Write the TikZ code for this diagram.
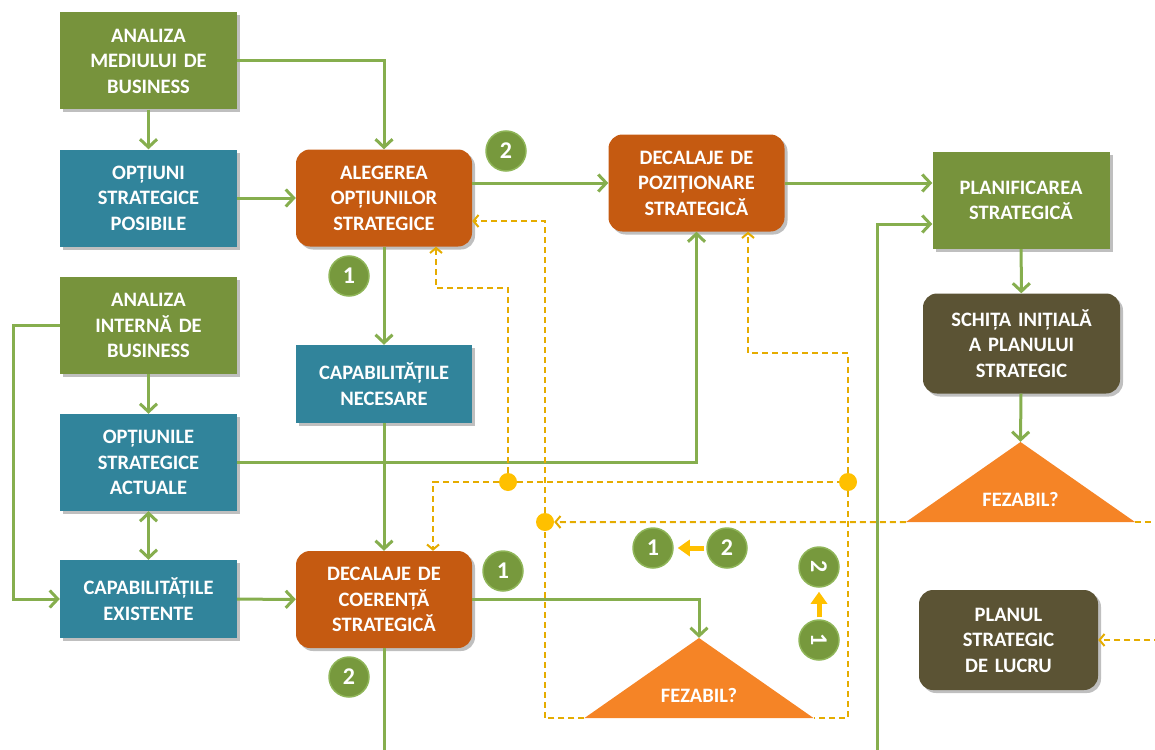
\documentclass[tikz,border=0pt]{standalone}
\usepackage{fontspec}
\setmainfont{Carlito}
\usepackage{tikz}
\usetikzlibrary{positioning}
\usetikzlibrary{arrows.meta, shadows}
\usepackage{xcolor}

\definecolor{boxgreen}{HTML}{77933C}
\definecolor{boxteal}{HTML}{31849B}
\definecolor{boxorange}{HTML}{C55A11}
\definecolor{boxolive}{HTML}{5B5334}
\definecolor{triorange}{HTML}{F58426}
\definecolor{linegreen}{HTML}{86AE4E}
\definecolor{numgreen}{HTML}{77993D}
\definecolor{numedge}{HTML}{8FB558}
\definecolor{dashyellow}{HTML}{E5AC00}
\definecolor{dotyellow}{HTML}{FFC000}

\begin{document}
\begin{tikzpicture}[x=1pt, y=-1pt,
  box/.style = {rectangle, minimum width=177pt, minimum height=97pt, text width=172pt, inner sep=2pt, align=center, text=white, font=\fontsize{20.5}{25.5}\selectfont\bfseries, drop shadow={shadow xshift=3pt, shadow yshift=-3pt, opacity=0.25, fill=black}},
  grn/.style = {box, fill=boxgreen},
  blu/.style = {box, fill=boxteal},
  org/.style = {box, fill=boxorange, rounded corners=14pt, minimum width=175pt},
  olv/.style = {box, fill=boxolive, rounded corners=14pt, minimum height=100pt},
  tri/.style = {minimum width=229pt, minimum height=80pt, inner sep=0pt, path picture={\fill[triorange] (path picture bounding box.south west) -- (path picture bounding box.north) -- (path picture bounding box.south east) -- cycle;}},
  trilbl/.style = {text=white, font=\fontsize{20.5}{25}\selectfont\bfseries, yshift=-17pt},
  num/.style = {circle, fill=numgreen, draw=numedge, line width=1.5pt, minimum size=40pt, inner sep=0pt, text=white, font=\fontsize{24}{28}\selectfont\bfseries},
  junc/.style = {circle, fill=dotyellow, minimum size=18pt, inner sep=0pt},
  link/.style = {draw=linegreen, line width=3pt, -{Straight Barb[length=8pt, width=17pt]}},
  fb/.style = {draw=dashyellow, line width=2pt, dash pattern=on 6pt off 4pt, -{Straight Barb[length=5pt, width=12pt]}},
  yarr/.style = {draw=dotyellow, line width=5pt, -{Triangle[length=12pt, width=16pt]}}
  ]
\useasboundingbox (0,0) rectangle (1155,749);

% boxes
\node[grn] (amb) at (148.5,61) {ANALIZA\\MEDIULUI DE\\BUSINESS};
\node[blu] (osp) at (148.5,198) {OPȚIUNI\\STRATEGICE\\POSIBILE};
\node[org] (aos) at (384,198) {ALEGEREA\\OPȚIUNILOR\\STRATEGICE};
\node[org] (dpo) at (696.5,183) {DECALAJE DE\\POZIȚIONARE\\STRATEGICĂ};
\node[grn] (pls) at (1021,200.5) {PLANIFICAREA\\STRATEGICĂ};
\node[grn] (aib) at (148.5,325.5) {ANALIZA\\INTERNĂ DE\\BUSINESS};
\node[blu, minimum height=78pt, minimum width=175pt] (cne) at (384,384) {CAPABILITĂȚILE\\NECESARE};
\node[blu] (osa) at (148.5,462.5) {OPȚIUNILE\\STRATEGICE\\ACTUALE};
\node[blu, minimum height=78pt] (cex) at (148.5,599) {CAPABILITĂȚILE\\EXISTENTE};
\node[org] (dco) at (384,599.5) {DECALAJE DE\\COERENȚĂ\\STRATEGICĂ};
\node[olv, minimum width=197pt] (sip) at (1021.5,343.5) {SCHIȚA INIȚIALĂ\\A PLANULUI\\STRATEGIC};
\node[olv, minimum width=179pt] (psl) at (1008.5,640) {PLANUL\\STRATEGIC\\DE LUCRU};

% triangles
\node[tri, label={[trilbl]center:FEZABIL?}] (fz2) at (1020.5,482) {};
\node[tri, label={[trilbl]center:FEZABIL?}] (fz1) at (699,678) {};

% green flow
\draw[link] (amb.east) -| (aos.north);
\path (amb) edge[link] (osp);
\path (osp) edge[link] (aos);
\draw[link] (aos.east |- dpo.west) -- (dpo.west);
\draw[link] (dpo.east) -- (dpo.east -| pls.west);
\path (aos) edge[link] (cne);
\path (cne) edge[link] (dco);
\draw[link] (aib.west) -- ++(-46,0) |- (cex.west);
\path (aib) edge[link] (osa);
\draw[link, {Straight Barb[length=8pt, width=17pt]}-{Straight Barb[length=8pt, width=17pt]}] (osa) -- (cex);
\draw[link] (osa.east) -| (dpo.south);
\path (cex) edge[link] (dco);
\draw[link] (dco.east) -| (fz1.north);
\draw[link, -] (dco.south) -- ++(0,110);
\coordinate (bot) at (877,760);
\draw[link] (bot) |- ([yshift=-23.5pt]pls.west);
\path (pls) edge[link] (sip);
\draw[link] (sip) -- (fz2.north);

% feedback
\node[junc] (j1) at (508,482) {};
\node[junc] (j2) at (848,482) {};
\node[junc] (j3) at (545,522) {};
\coordinate (k1) at (436,288);
\coordinate (k2) at (748,353);
\draw[fb] (j1) |- (k1) -- (k1 |- aos.south);
\draw[fb] (j1) -| ([xshift=49pt]dco.north);
\draw[fb, -] (j1) -- (j2);
\draw[fb] (j2) |- (k2) -- (k2 |- dpo.south);
\draw[fb, -] (j2) |- (fz1.south east);
\draw[fb, -] (fz1.south west) -| (j3);
\draw[fb] (fz2.south west) -- (j3);
\draw[fb] (j3) |- ([yshift=-23pt]aos.east);
\draw[fb, -] (fz2.south east) -- ++(30,0);
\coordinate (r) at (1160,640);
\draw[fb] (r) -- (psl.east);

% steps
\node[num] (n1) at (506,151) {2};
\node[num] (n2) at (349,276) {1};
\node[num] (n3) at (503,571) {1};
\node[num] (n4) at (349,677) {2};
\node[num] (n5) at (653,548) {1};
\node[num] (n6) at (727,548) {2};
\node[num, rotate=-90] (n7) at (819,567) {2};
\node[num, rotate=-90] (n8) at (819,640) {1};
\draw[yarr, shorten <=2pt, shorten >=4pt] (n6) -- (n5);
\draw[yarr, shorten <=2pt, shorten >=4pt] (n8) -- (n7);
\end{tikzpicture}
\end{document}
